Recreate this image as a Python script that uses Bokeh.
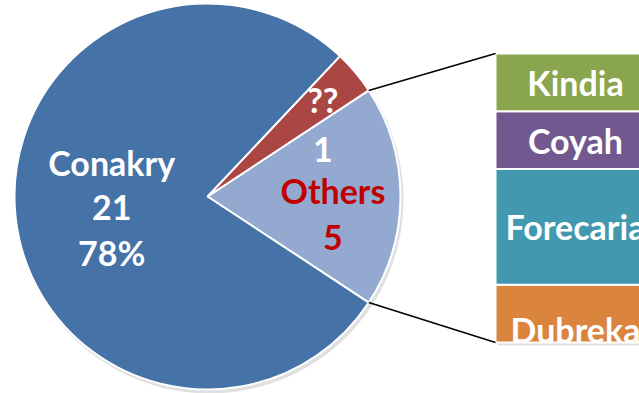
import math
from bokeh.plotting import figure
from bokeh.models import Range1d
from bokeh.core.properties import value
from bokeh.embed import file_html
from bokeh.resources import INLINE

# ---- data ----
pie_labels = ["Conakry", "??", "Others"]
pie_values = [21, 1, 5]
pie_colors = ["#4572A7", "#AA4643", "#93A9CF"]

bar_labels = ["Dubreka", "Forecaria", "Coyah", "Kindia"]  # bottom to top
bar_values = [1, 2, 1, 1]
bar_colors = ["#DB843D", "#4198AF", "#71588F", "#89A54E"]

# ---- layout ----
W, H = 639, 393
CX, CY, R = 207, 197, 193
BAR_LEFT, BAR_RIGHT = 495, 655
BAR_BASE, UNIT = 51, 57.8
FONT = value("Lato")
FS = "34px"

p = figure(width=W, height=H, x_range=Range1d(0, W), y_range=Range1d(0, H),
           output_backend="svg", toolbar_location=None, min_border=0)
p.axis.visible = False
p.grid.visible = False
p.outline_line_color = None
p.background_fill_color = "white"
p.border_fill_color = "white"

total = sum(pie_values)
idx = {n: i for i, n in enumerate(pie_labels)}
# Others is centred on the horizontal axis, then ??, then Conakry (counter-clockwise)
order = [idx["Others"], idx["??"], idx["Conakry"]]
a = -math.pi * pie_values[idx["Others"]] / total
starts, ends = {}, {}
for i in order:
    starts[i] = a
    a += 2 * math.pi * pie_values[i] / total
    ends[i] = a

# shadow
p.circle(x=CX + 2, y=CY - 3, radius=R + 1, fill_color="#000000", fill_alpha=0.12, line_color=None)
for i in order:
    p.wedge(x=CX, y=CY, radius=R, start_angle=starts[i], end_angle=ends[i],
            fill_color=pie_colors[i], line_color="white", line_width=2)

def mid(i):
    return (starts[i] + ends[i]) / 2

def label_lines(i, frac, lines, offsets, color):
    m = mid(i)
    lx, ly = CX + frac * R * math.cos(m), CY + frac * R * math.sin(m)
    for t, off in zip(lines, offsets):
        p.text(x=[lx], y=[ly], text=[t], y_offset=off, text_align="center",
               text_baseline="middle", text_color=color, text_font=FONT,
               text_font_style="bold", text_font_size=FS)

i = idx["Conakry"]
pct = round(100 * pie_values[i] / total)
label_lines(i, 0.5, [pie_labels[i], str(pie_values[i]), f"{pct}%"], [-45, 0, 45], "white")

i = idx["??"]
label_lines(i, 0.78, [pie_labels[i], str(pie_values[i])], [0, 50], "white")

i = idx["Others"]
label_lines(i, 0.65, [pie_labels[i], str(pie_values[i])], [-6, 41], "#C00000")

# stacked bar
bottoms, tops = [], []
c = 0
for v in bar_values:
    bottoms.append(BAR_BASE + c * UNIT)
    c += v
    tops.append(BAR_BASE + c * UNIT)

p.quad(left=BAR_LEFT + 2, right=BAR_RIGHT + 2, bottom=bottoms[0] - 3, top=tops[-1] - 3,
       fill_color="#000000", fill_alpha=0.12, line_color=None)
p.quad(left=BAR_LEFT, right=BAR_RIGHT, bottom=bottoms, top=tops,
       fill_color=bar_colors, line_color="white", line_width=2)

for k, t in enumerate(bar_labels):
    cy = (bottoms[k] + tops[k]) / 2
    dy = 16 if k == 0 else 0
    p.text(x=[(BAR_LEFT + BAR_RIGHT) / 2], y=[cy], text=[t], y_offset=dy,
           text_align="center", text_baseline="middle", text_color="white",
           text_font=FONT, text_font_style="bold", text_font_size=FS)

# connector lines
io = idx["Others"]
for ang, by in [(starts[io], bottoms[0]), (ends[io], tops[-1])]:
    px, py = CX + R * math.cos(ang), CY + R * math.sin(ang)
    p.segment(x0=[px], y0=[py], x1=[BAR_LEFT], y1=[by], line_color="black", line_width=1.5)

open("out.html", "w").write(file_html(p, INLINE))
